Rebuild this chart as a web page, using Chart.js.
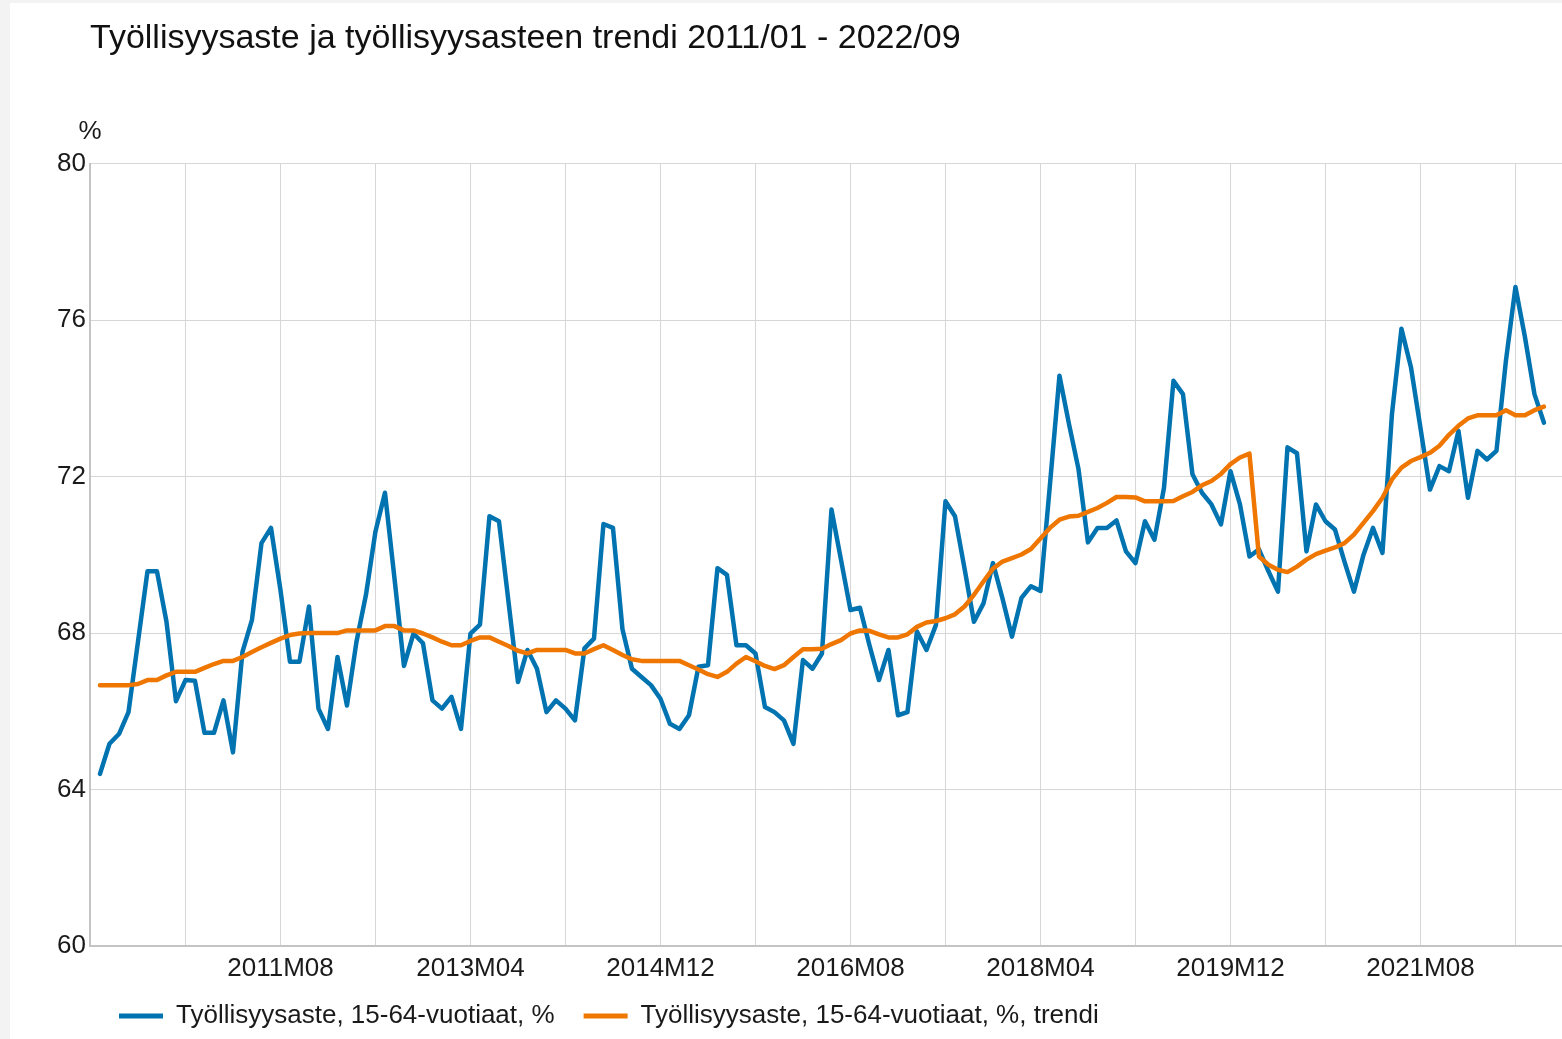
<!DOCTYPE html>
<html><head><meta charset="utf-8">
<script src="https://cdn.jsdelivr.net/npm/chart.js@4"></script>
<style>
html,body{margin:0;padding:0;background:#f3f3f3;width:1562px;height:1039px;overflow:hidden}
#wrap{position:absolute;left:10px;top:3px;width:1552px;height:1036px;background:#fff}
canvas{display:block}
</style></head><body>
<div id="wrap"><canvas id="c" width="1552" height="1036"></canvas></div>
<script>
const titleText = 'Työllisyysaste ja työllisyysasteen trendi 2011/01 - 2022/09';
const unitLabel = '%';
const seriesNames = ['Työllisyysaste, 15-64-vuotiaat, %', 'Työllisyysaste, 15-64-vuotiaat, %, trendi'];

// Monthly categories 2010M01 .. 2022M09
const months = [];
for (let y = 2010; y <= 2022; y++) {
  for (let m = 1; m <= 12; m++) {
    if (y === 2022 && m > 9) break;
    months.push(y + 'M' + String(m).padStart(2, '0'));
  }
}
const tickLabels = ['2011M08', '2013M04', '2014M12', '2016M08', '2018M04', '2019M12', '2021M08'];
const yTicks = [60, 64, 68, 72, 76, 80];

const employment = [
  64.40, 65.17, 65.42, 65.98, 67.78, 69.58, 69.58, 68.29, 66.26, 66.80, 66.78, 65.45,
  65.45, 66.28, 64.95, 67.52, 68.34, 70.30, 70.69, 69.10, 67.27, 67.27, 68.68, 66.07,
  65.55, 67.39, 66.15, 67.78, 68.98, 70.60, 71.59, 69.40, 67.16, 67.99, 67.74, 66.28,
  66.07, 66.37, 65.55, 67.99, 68.22, 70.99, 70.86, 68.81, 66.75, 67.57, 67.09, 65.98,
  66.28, 66.07, 65.77, 67.61, 67.86, 70.79, 70.69, 68.10, 67.09, 66.88, 66.67, 66.32,
  65.68, 65.55, 65.90, 67.14, 67.18, 69.66, 69.49, 67.69, 67.69, 67.48, 66.11, 65.98,
  65.77, 65.17, 67.31, 67.09, 67.48, 71.16, 69.88, 68.59, 68.65, 67.69, 66.80, 67.57,
  65.90, 65.98, 68.04, 67.57, 68.21, 71.37, 70.99, 69.66, 68.29, 68.76, 69.79, 68.89,
  67.91, 68.90, 69.20, 69.08, 71.80, 74.58, 73.35, 72.20, 70.32, 70.69, 70.69, 70.88,
  70.09, 69.79, 70.86, 70.39, 71.71, 74.45, 74.11, 72.06, 71.59, 71.29, 70.78, 72.14,
  71.29, 69.96, 70.14, 69.58, 69.06, 72.75, 72.60, 70.09, 71.29, 70.86, 70.65, 69.83,
  69.06, 70.00, 70.69, 70.05, 73.60, 75.78, 74.80, 73.25, 71.67, 72.27, 72.14, 73.17,
  71.46, 72.66, 72.44, 72.66, 74.97, 76.85, 75.57, 74.11, 73.38
];
const trend = [
  66.67, 66.67, 66.67, 66.67, 66.70, 66.80, 66.80, 66.92, 67.01, 67.01, 67.01, 67.11,
  67.21, 67.29, 67.29, 67.39, 67.52, 67.64, 67.75, 67.86, 67.95, 67.99, 68.00, 68.00,
  68.00, 68.00, 68.07, 68.07, 68.07, 68.07, 68.18, 68.18, 68.07, 68.07, 67.99, 67.89,
  67.78, 67.69, 67.69, 67.80, 67.89, 67.89, 67.78, 67.67, 67.55, 67.48, 67.57, 67.57,
  67.57, 67.57, 67.48, 67.48, 67.59, 67.69, 67.57, 67.44, 67.33, 67.29, 67.29, 67.29,
  67.29, 67.29, 67.18, 67.07, 66.95, 66.88, 67.01, 67.22, 67.39, 67.28, 67.16, 67.08,
  67.18, 67.39, 67.59, 67.59, 67.60, 67.72, 67.82, 67.99, 68.07, 68.06, 67.97, 67.89,
  67.89, 67.97, 68.16, 68.27, 68.31, 68.38, 68.48, 68.68, 68.98, 69.32, 69.65, 69.83,
  69.92, 70.01, 70.15, 70.42, 70.69, 70.90, 70.98, 71.00, 71.10, 71.20, 71.33, 71.48,
  71.48, 71.47, 71.37, 71.37, 71.37, 71.38, 71.50, 71.61, 71.78, 71.89, 72.07, 72.32,
  72.49, 72.59, 69.96, 69.75, 69.62, 69.56, 69.70, 69.88, 70.02, 70.11, 70.19, 70.30,
  70.52, 70.82, 71.12, 71.46, 71.93, 72.23, 72.40, 72.50, 72.61, 72.79, 73.07, 73.30,
  73.49, 73.57, 73.57, 73.57, 73.70, 73.57, 73.57, 73.70, 73.79
];

const BLUE = '#0073b0';
const ORANGE = '#ee7601';
const FONT = '"Liberation Sans", Arial, Helvetica, sans-serif';
const TEXT = '#1a1a1a';

Chart.defaults.font.family = FONT;
Chart.defaults.color = TEXT;

const toPoints = arr => arr.map((v, i) => ({ x: i, y: v }));

const unitPlugin = {
  id: 'unitLabel',
  afterDraw(chart) {
    const { ctx, chartArea } = chart;
    ctx.save();
    ctx.font = '26px ' + FONT;
    ctx.fillStyle = TEXT;
    ctx.textAlign = 'center';
    ctx.textBaseline = 'middle';
    ctx.fillText(unitLabel, chartArea.left, chartArea.top - 32);
    ctx.restore();
  }
};

new Chart(document.getElementById('c'), {
  type: 'line',
  data: {
    datasets: [
      { label: seriesNames[0], data: toPoints(employment), borderColor: BLUE, backgroundColor: BLUE,
        borderWidth: 4.5, pointRadius: 0, tension: 0, fill: false, order: 1,
        borderJoinStyle: 'round', borderCapStyle: 'round' },
      { label: seriesNames[1], data: toPoints(trend), borderColor: ORANGE, backgroundColor: ORANGE,
        borderWidth: 4.5, pointRadius: 0, tension: 0, fill: false, order: 0,
        borderJoinStyle: 'round', borderCapStyle: 'round' }
    ]
  },
  options: {
    responsive: false,
    animation: false,
    events: [],
    layout: { padding: 0 },
    plugins: {
      tooltip: { enabled: false },
      title: {
        display: true, text: titleText, align: 'start', fullSize: false, color: '#111',
        font: { size: 34, weight: 'normal', family: FONT }, padding: { top: 15, bottom: 105 }
      },
      legend: {
        position: 'bottom', align: 'start', fullSize: false, maxHeight: 68,
        labels: {
          boxWidth: 44, boxHeight: 5, padding: 29, color: TEXT,
          font: { size: 26, family: FONT },
          sort: (a, b) => a.datasetIndex - b.datasetIndex,
          generateLabels: chart => Chart.defaults.plugins.legend.labels.generateLabels(chart)
            .map(l => Object.assign({}, l, { fillStyle: l.strokeStyle, lineWidth: 0 }))
        }
      }
    },
    scales: {
      x: {
        type: 'linear', min: -1.05, max: 153.9,
        grid: { color: '#d6d6d6', lineWidth: 1, drawTicks: false },
        border: { color: '#c4c4c4', width: 2 },
        ticks: {
          autoSkip: false, maxRotation: 0, mirror: true, padding: -38.2, color: TEXT,
          font: { size: 26, family: FONT },
          callback: v => { const l = months[v]; return tickLabels.includes(l) ? l : ''; }
        },
        afterBuildTicks: s => {
          const t = [];
          for (let i = 9; i < months.length; i += 10) t.push({ value: i });
          s.ticks = t;
        },
        afterFit: s => { s.height = 28; }
      },
      y: {
        min: yTicks[0], max: yTicks[yTicks.length - 1],
        grid: { color: '#d6d6d6', lineWidth: 1, drawTicks: false },
        border: { color: '#c4c4c4', width: 2 },
        ticks: { stepSize: yTicks[1] - yTicks[0], padding: 4, color: TEXT, font: { size: 26, family: FONT } },
        afterBuildTicks: s => { s.ticks = yTicks.map(v => ({ value: v })); },
        afterFit: s => { s.width = 80; }
      }
    }
  },
  plugins: [unitPlugin]
});
</script>
</body></html>
